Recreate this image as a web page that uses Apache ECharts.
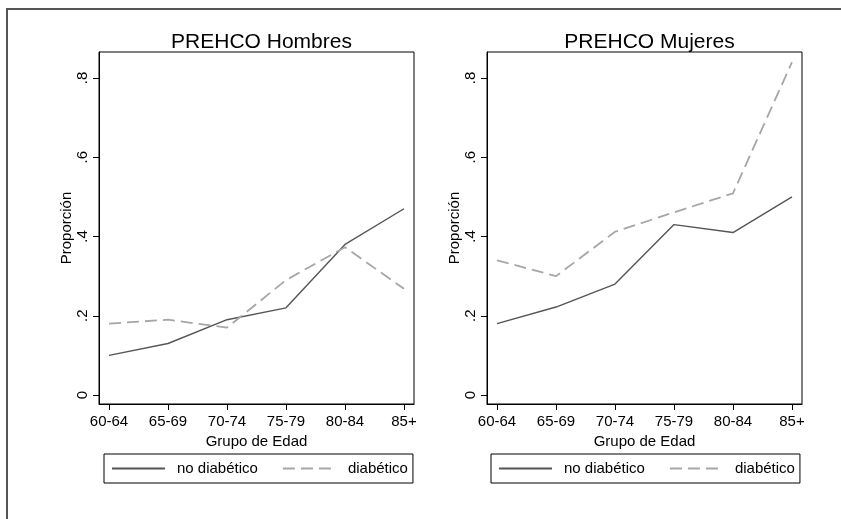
<!DOCTYPE html>
<html>
<head>
<meta charset="utf-8">
<script src="https://cdn.jsdelivr.net/npm/echarts@6/dist/echarts.min.js"></script>
<style>
html,body{margin:0;padding:0;background:#fff;}
#chart{width:841px;height:519px;}
</style>
</head>
<body>
<div id="chart"></div>
<script>
var categories = ['60-64', '65-69', '70-74', '75-79', '80-84', '85+'];
var yTicks = [0, 0.2, 0.4, 0.6, 0.8];
var titles = ['PREHCO Hombres', 'PREHCO Mujeres'];
var seriesNames = ['no diabético', 'diabético'];
var hombresNoDiab = [0.10, 0.13, 0.19, 0.22, 0.38, 0.47];
var hombresDiab = [0.18, 0.19, 0.17, 0.29, 0.373, 0.268];
var mujeresNoDiab = [0.18, 0.222, 0.28, 0.43, 0.41, 0.50];
var mujeresDiab = [0.34, 0.30, 0.412, 0.461, 0.509, 0.84];

var FONT = 'Liberation Sans, Arial, Helvetica, sans-serif';
var panels = [
  {left: 99, noDiab: hombresNoDiab, diab: hombresDiab, legendLeft: 104},
  {left: 487, noDiab: mujeresNoDiab, diab: mujeresDiab, legendLeft: 491}
];
var catIdx = categories.map(function (c, i) { return i; });
function pairs(arr) { return arr.map(function (v, i) { return [i, v]; }); }
function fmtY(v) {
  if (Math.abs(v) < 1e-9) return '0';
  return String(Math.round(v * 10) / 10).replace(/^0/, '');
}

var option = {
  backgroundColor: '#fff',
  animation: false,
  title: [], grid: [], xAxis: [], yAxis: [], series: [], legend: [],
  graphic: [{
    type: 'rect', silent: true,
    shape: {x: 7, y: 9, width: 1000, height: 1000},
    style: {fill: 'none', stroke: '#555', lineWidth: 2}
  }]
};

panels.forEach(function (p, k) {
  var center = p.left + 157.5;
  option.title.push({
    text: titles[k], left: center, top: 27, textAlign: 'center',
    textStyle: {fontFamily: FONT, fontWeight: 'normal', fontSize: 21, color: '#000'}
  });
  option.grid.push({
    left: p.left, top: 52, width: 315, height: 352,
    show: true, borderColor: '#000', borderWidth: 1, backgroundColor: '#fff'
  });
  option.xAxis.push({
    type: 'value', gridIndex: k, min: -0.17, max: 5.17,
    name: 'Grupo de Edad', nameLocation: 'middle', nameGap: 26,
    nameTextStyle: {fontFamily: FONT, fontSize: 15, color: '#000'},
    axisLine: {show: true, onZero: false, lineStyle: {color: '#000', width: 1}},
    axisTick: {show: true, customValues: catIdx, length: 6, lineStyle: {color: '#000'}},
    axisLabel: {
      customValues: catIdx, margin: 10,
      fontFamily: FONT, fontSize: 15, color: '#000',
      formatter: function (v) { return categories[Math.round(v)]; }
    },
    splitLine: {show: false}
  });
  option.yAxis.push({
    type: 'value', gridIndex: k, min: -0.0227, max: 0.8656,
    name: 'Proporción', nameLocation: 'middle', nameGap: 24,
    nameTextStyle: {fontFamily: FONT, fontSize: 15, color: '#000'},
    axisLine: {show: true, onZero: false, lineStyle: {color: '#000', width: 1}},
    axisTick: {show: true, customValues: yTicks, length: 6, lineStyle: {color: '#000'}},
    axisLabel: {
      customValues: yTicks, rotate: 90, margin: 9,
      fontFamily: FONT, fontSize: 15, color: '#000',
      formatter: fmtY
    },
    splitLine: {show: false}
  });
  option.series.push({
    name: seriesNames[0], type: 'line', xAxisIndex: k, yAxisIndex: k,
    data: pairs(p.noDiab), symbol: 'none',
    lineStyle: {color: '#555', width: 1.4, type: 'solid'},
    itemStyle: {color: '#555'}
  });
  option.series.push({
    name: seriesNames[1], type: 'line', xAxisIndex: k, yAxisIndex: k,
    data: pairs(p.diab), symbol: 'none',
    lineStyle: {color: '#a6a6a6', width: 1.8, type: [12, 6]},
    itemStyle: {color: '#a6a6a6'}
  });
  option.legend.push({
    data: seriesNames, left: p.legendLeft, top: 454,
    orient: 'horizontal', itemWidth: 53, itemHeight: 14, itemGap: 24,
    padding: [7, 5, 7, 7],
    borderColor: '#000', borderWidth: 1, backgroundColor: '#fff',
    selectedMode: false,
    itemStyle: {opacity: 0},
    textStyle: {fontFamily: FONT, fontSize: 15, color: '#000', padding: [0, 0, 0, 7]}
  });
});

var chart = echarts.init(document.getElementById('chart'), null, {renderer: 'canvas'});
chart.setOption(option);
</script>
</body>
</html>
